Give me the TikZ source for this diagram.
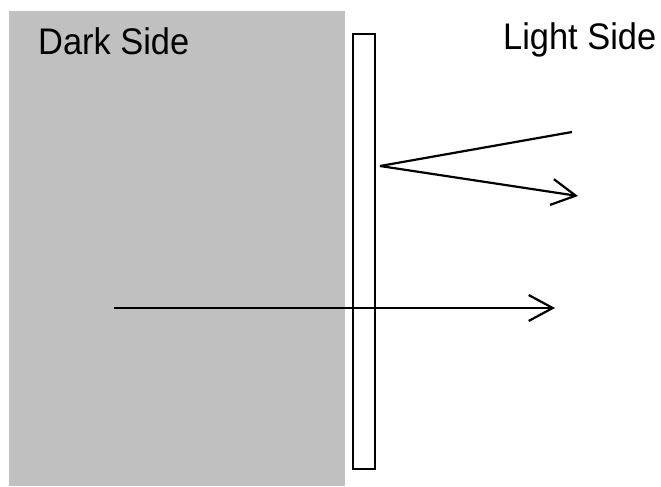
\documentclass[tikz,border=0pt]{standalone}
\usepackage{fontspec}
\setmainfont{Liberation Sans}
\usetikzlibrary{arrows.meta, positioning}
\definecolor{shadegray}{RGB}{192, 192, 192}

\begin{document}
\begin{tikzpicture}[x=1pt, y=-1pt,
  sidelabel/.style={font=\fontsize{37}{40}\selectfont, inner sep=0pt, anchor=base west, xscale=0.93},
  ray/.style={line width=2.2pt},
  raytip/.style={-{Straight Barb[length=24pt, width=26pt, line width=2.2pt]}}]
  \useasboundingbox (0, 0) rectangle (661, 487);

  % dark half
  \fill[shadegray] (9, 11) rectangle (345, 486);
  \node[sidelabel] (darklbl) at (38, 55) {Dark Side};
  \node[sidelabel] (lightlbl) at (503, 50) {Light Side};

  % plate
  \draw[line width=2.2pt, fill=white] (353, 34) rectangle (375, 469);

  % reflected rays
  \coordinate (hit) at (380, 166);
  \coordinate (upend) at (572, 132);
  \coordinate (lowend) at (578, 196);
  \draw[ray] (hit) -- (upend);
  \draw[ray, raytip] (hit) -- (lowend);

  % straight ray
  \coordinate (srcpt) at (114, 308);
  \coordinate (dstpt) at (555, 308);
  \draw[ray, raytip] (srcpt) -- (dstpt);
\end{tikzpicture}
\end{document}
